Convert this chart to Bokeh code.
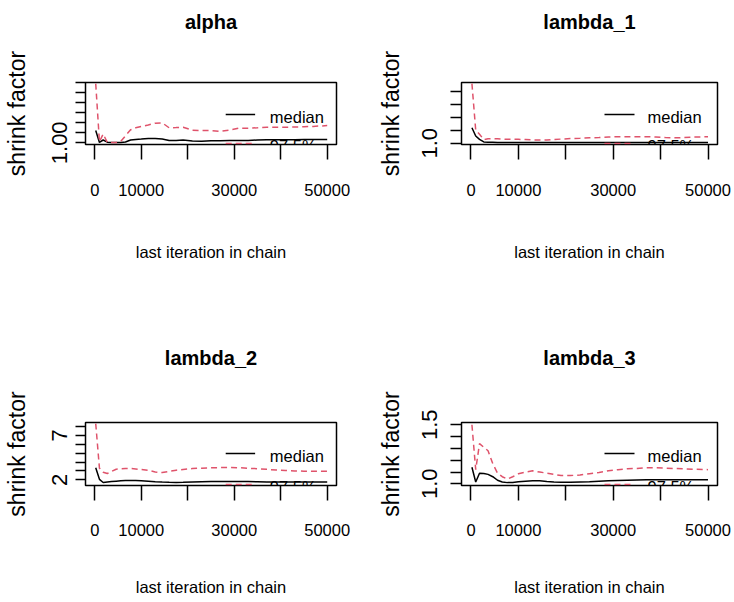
from bokeh.plotting import figure
from bokeh.layouts import column, row
from bokeh.models import Range1d, FixedTicker, LinearAxis
from bokeh.core.properties import value
from bokeh.embed import file_html
from bokeh.resources import INLINE

# ---------------- data ----------------
iterations = [200, 1000, 1800, 2700, 3600, 4600, 5600, 6600, 7700, 8800, 10000,
              11500, 13000, 14500, 16000, 17500, 19000, 21000, 23000, 25000, 27000,
              29000, 31000, 33000, 35000, 37000, 39000, 41000, 43000, 45000, 47000, 50000]

alpha_median = [1.061, 1.002, 1.014, 1.003, 1.001, 1.001, 1.002, 1.004, 1.014, 1.017, 1.019,
                1.022, 1.021, 1.019, 1.011, 1.012, 1.014, 1.009, 1.008, 1.010, 1.010,
                1.011, 1.012, 1.012, 1.014, 1.015, 1.015, 1.015, 1.015, 1.016, 1.016, 1.017]
alpha_q975 = [1.296, 1.005, 1.044, 1.002, 1.001, 1.002, 1.008, 1.035, 1.065, 1.075, 1.082,
              1.089, 1.098, 1.100, 1.075, 1.076, 1.078, 1.063, 1.061, 1.061, 1.057,
              1.063, 1.073, 1.073, 1.075, 1.078, 1.078, 1.078, 1.079, 1.080, 1.082, 1.086]

lambda1_median = [1.60, 1.28, 1.15, 1.05, 1.04, 1.04, 1.03, 1.03, 1.03, 1.03, 1.03,
                  1.03, 1.03, 1.03, 1.03, 1.03, 1.03, 1.03, 1.03, 1.03, 1.03,
                  1.03, 1.03, 1.03, 1.03, 1.03, 1.03, 1.03, 1.03, 1.03, 1.03, 1.03]
lambda1_q975 = [3.31, 1.50, 1.35, 1.14, 1.17, 1.18, 1.17, 1.16, 1.155, 1.15, 1.15,
                1.14, 1.13, 1.12, 1.12, 1.14, 1.16, 1.18, 1.19, 1.21, 1.22,
                1.24, 1.25, 1.25, 1.25, 1.25, 1.24, 1.22, 1.21, 1.22, 1.24, 1.25]

lambda2_median = [3.35, 2.05, 1.70, 1.75, 1.80, 1.85, 1.89, 1.91, 1.92, 1.92, 1.88,
                  1.83, 1.78, 1.74, 1.71, 1.70, 1.72, 1.76, 1.78, 1.80, 1.81,
                  1.81, 1.81, 1.80, 1.78, 1.76, 1.74, 1.74, 1.74, 1.74, 1.74, 1.74]
lambda2_q975 = [8.33, 3.30, 2.85, 2.71, 2.95, 3.19, 3.24, 3.27, 3.27, 3.22, 3.15,
                3.08, 2.88, 2.82, 2.95, 3.08, 3.17, 3.27, 3.31, 3.35, 3.37,
                3.38, 3.36, 3.30, 3.25, 3.18, 3.10, 3.05, 3.00, 2.97, 2.97, 2.97]

lambda3_median = [1.14, 1.015, 1.09, 1.088, 1.08, 1.06, 1.03, 1.015, 1.01, 1.012, 1.018,
                  1.022, 1.026, 1.026, 1.020, 1.016, 1.014, 1.014, 1.016, 1.018, 1.022,
                  1.026, 1.028, 1.030, 1.032, 1.034, 1.034, 1.034, 1.034, 1.034, 1.034, 1.034]
lambda3_q975 = [1.50, 1.12, 1.34, 1.31, 1.28, 1.17, 1.09, 1.06, 1.04, 1.06, 1.085,
                1.10, 1.11, 1.10, 1.09, 1.08, 1.07, 1.07, 1.075, 1.085, 1.095,
                1.11, 1.12, 1.127, 1.13, 1.136, 1.136, 1.133, 1.13, 1.127, 1.124, 1.12]

panel_titles = ["alpha", "lambda_1", "lambda_2", "lambda_3"]
legend_labels = ["median", "97.5%"]

x_ticks = [0, 10000, 20000, 30000, 40000, 50000]
x_tick_labels = ["0", "10000", "", "30000", "", "50000"]

alpha_yticks = [1.00, 1.05, 1.10, 1.15, 1.20, 1.25, 1.30]
alpha_ylabels = ["1.00", "", "", "", "", "", ""]
lambda1_yticks = [1.0, 1.5, 2.0, 2.5, 3.0]
lambda1_ylabels = ["1.0", "", "", "", ""]
lambda2_yticks = [2, 3, 4, 5, 6, 7, 8]
lambda2_ylabels = ["2", "", "", "", "", "7", ""]
lambda3_yticks = [1.0, 1.1, 1.2, 1.3, 1.4, 1.5]
lambda3_ylabels = ["1.0", "", "", "", "", "1.5"]

# ---------------- styling / layout ----------------
RED = "#DF536B"
SANS = "Liberation Sans"
XLIM = (-2000, 52000)
FRAME_W = 256

def make_panel(name, med, q975, yticks, ylabels, ylim, L):
    p = figure(width=L["w"], height=L["h"], output_backend="svg", toolbar_location=None,
               x_range=Range1d(*XLIM), y_range=Range1d(*ylim),
               min_border_left=L["bl"], min_border_right=L["br"],
               min_border_top=L["bt"], min_border_bottom=L["bb"])
    p.grid.visible = False
    p.outline_line_color = "black"
    p.outline_line_width = 1.5
    p.outline_line_alpha = 1
    p.background_fill_color = "white"
    p.border_fill_color = "white"

    # panel title as the label of a bare axis above the frame
    top = LinearAxis(ticker=FixedTicker(ticks=[]), axis_label=name)
    top.axis_line_color = None
    top.major_tick_line_color = None
    top.minor_tick_line_color = None
    top.major_tick_out = 0
    top.major_label_text_font_size = "0px"
    top.axis_label_text_font = SANS
    top.axis_label_text_font_style = "bold"
    top.axis_label_text_font_size = "20px"
    top.axis_label_text_color = "black"
    top.axis_label_standoff = L["ts"]
    p.add_layout(top, "above")

    xa = p.below[0]
    xa.ticker = FixedTicker(ticks=x_ticks)
    xa.major_label_overrides = dict(zip(x_ticks, x_tick_labels))
    xa.axis_line_color = None
    xa.major_tick_out = 15
    xa.major_tick_in = 0
    xa.major_tick_line_width = 1.5
    xa.major_tick_line_color = "black"
    xa.minor_tick_line_color = None
    xa.major_label_text_font = SANS
    xa.major_label_text_font_size = "16.5px"
    xa.major_label_text_color = "black"
    xa.major_label_standoff = L["xts"]
    xa.axis_label = "last iteration in chain"
    xa.axis_label_text_font = SANS
    xa.axis_label_text_font_size = "16.5px"
    xa.axis_label_text_font_style = "normal"
    xa.axis_label_text_color = "black"
    xa.axis_label_standoff = L["xls"]

    ya = p.yaxis[0]
    ya.ticker = FixedTicker(ticks=yticks)
    ya.major_label_overrides = dict(zip(yticks, ylabels))
    ya.axis_line_color = None
    ya.major_tick_out = L["yto"]
    ya.major_tick_in = 0
    ya.major_tick_line_width = 1.5
    ya.major_tick_line_color = "black"
    ya.minor_tick_line_color = None
    ya.major_label_orientation = "vertical"
    ya.major_label_text_font = SANS
    ya.major_label_text_font_size = "22px"
    ya.major_label_text_color = "black"
    ya.major_label_standoff = L["yts"]
    ya.axis_label = "shrink factor"
    ya.axis_label_text_font = SANS
    ya.axis_label_text_font_size = "23px"
    ya.axis_label_text_font_style = "normal"
    ya.axis_label_text_color = "black"
    ya.axis_label_standoff = L["yls"]

    p.line(iterations, med, color="black", line_width=1.5)
    p.line(iterations, q975, color=RED, line_width=1.5, line_dash="6 4")

    fh = L["fh"]
    def fx(px):
        return XLIM[0] + px / FRAME_W * (XLIM[1] - XLIM[0])
    def fy(py):
        return ylim[1] - py / fh * (ylim[1] - ylim[0])

    # legend drawn inside the plot region (clipped by the frame, as in R)
    row_gap = L["lg"]
    y0 = L["ly"]
    p.line([fx(143), fx(173)], [fy(y0), fy(y0)], color="black", line_width=1.5)
    p.line([fx(143), fx(173)], [fy(y0 + row_gap), fy(y0 + row_gap)], color=RED,
           line_width=1.5, line_dash="6 4")
    p.text(x=[fx(L["lx"]), fx(L["lx"])], y=[fy(y0 + 2), fy(y0 + row_gap + 2)],
           text=legend_labels, text_font=value(SANS), text_font_size="16.5px",
           text_color="black", text_baseline="middle", text_align="left")
    return p

L1 = dict(w=367, h=336, bl=80, br=31, bt=82, bb=192, fh=62, ts=50, xts=24, xls=44,
          yto=10, yts=8, yls=20, ly=32, lg=29, lx=188)
L2 = dict(w=365, h=336, bl=94, br=15, bt=82, bb=192, fh=62, ts=50, xts=24, xls=44,
          yto=11, yts=13, yls=16, ly=32, lg=29, lx=186)
L3 = dict(w=367, h=264, bl=80, br=31, bt=86, bb=115, fh=63, ts=54, xts=23, xls=39,
          yto=10, yts=8, yls=20, ly=31, lg=31, lx=188)
L4 = dict(w=365, h=264, bl=94, br=15, bt=86, bb=115, fh=63, ts=54, xts=23, xls=39,
          yto=11, yts=13, yls=16, ly=31, lg=31, lx=186)

p1 = make_panel(panel_titles[0], alpha_median, alpha_q975, alpha_yticks, alpha_ylabels,
                (0.9915, 1.3015), L1)
p2 = make_panel(panel_titles[1], lambda1_median, lambda1_q975, lambda1_yticks, lambda1_ylabels,
                (0.95, 3.353), L2)
p3 = make_panel(panel_titles[2], lambda2_median, lambda2_q975, lambda2_yticks, lambda2_ylabels,
                (1.358, 8.45), L3)
p4 = make_panel(panel_titles[3], lambda3_median, lambda3_q975, lambda3_yticks, lambda3_ylabels,
                (0.9856, 1.5195), L4)

layout = column(row(p1, p2), row(p3, p4))
open("out.html", "w").write(file_html(layout, INLINE))
